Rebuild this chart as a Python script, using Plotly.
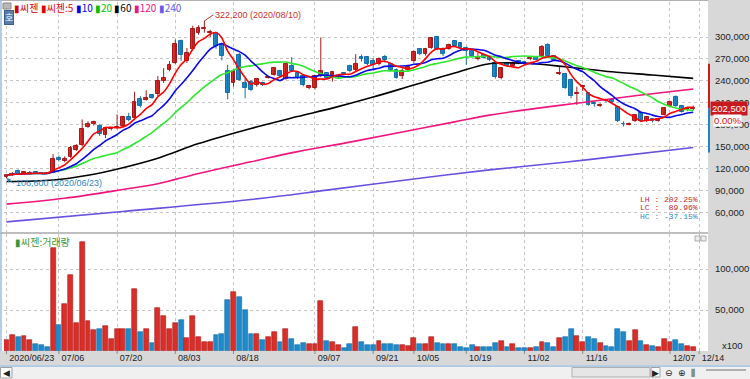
import plotly.graph_objects as go

# ---------------- data ----------------
dates = ["06/23","06/24","06/25","06/26","06/29","06/30",
         "07/01","07/02","07/03","07/06","07/07","07/08","07/09","07/10","07/13","07/14","07/15","07/16","07/17",
         "07/20","07/21","07/22","07/23","07/24","07/27","07/28","07/29","07/30","07/31",
         "08/03","08/04","08/05","08/06","08/07","08/10","08/11","08/12","08/13","08/14","08/18","08/19","08/20",
         "08/21","08/24","08/25","08/26","08/27","08/28","08/31",
         "09/01","09/02","09/03","09/04","09/07","09/08","09/09","09/10","09/11","09/14","09/15","09/16","09/17",
         "09/18","09/21","09/22","09/23","09/24","09/25","09/28","09/29",
         "10/05","10/06","10/07","10/08","10/12","10/13","10/14","10/15","10/16","10/19","10/20","10/21","10/22",
         "10/23","10/26","10/27","10/28","10/29","10/30",
         "11/02","11/03","11/04","11/05","11/06","11/09","11/10","11/11","11/12","11/13","11/16","11/17","11/18",
         "11/19","11/20","11/23","11/24","11/25","11/26","11/27","11/30",
         "12/01","12/02","12/03","12/04","12/07","12/08","12/09","12/10","12/11"]

opens = [108000,110500,117000,112000,113500,114500,113500,113500,114000,134500,
         130500,136000,145500,152000,177000,181000,178500,166000,174000,175000,
         178000,190000,189000,214500,214000,220000,221500,239500,255500,264500,
         294000,267000,283000,305500,311000,305000,305500,289500,253000,237500,
         276000,237000,239000,234000,237000,244500,248500,253000,243000,260500,
         250500,246000,230000,230000,248000,250500,244000,245000,250500,260000,
         255000,272000,272000,266500,263000,272000,263000,255000,246000,255000,
         266500,283000,276500,285500,300500,284000,284000,294000,291500,285000,
         280500,270000,276000,272000,264500,244000,264000,260000,266500,266000,
         270500,272000,273500,289500,273500,250000,249500,241500,222000,231000,
         223000,209000,206000,213500,214000,203500,181500,180000,184500,196000,
         184500,187500,184500,193500,205000,218500,206000,200500,202000]
highs = [111500,115000,118500,116000,116500,115500,114500,114000,139500,137500,
         136500,150500,153500,187000,184500,185500,180500,177000,177000,194000,
         192000,196000,225000,219000,227000,222000,246500,257500,267000,296500,
         296500,285000,315500,316000,322200,310000,307000,291000,262000,256000,
         278000,244000,241000,244000,239000,246500,258500,255000,264000,272500,
         252000,247500,234500,248000,299500,252000,253000,248000,252000,262000,
         276500,276000,273500,271000,272000,275500,265000,257000,257000,262000,
         281500,284000,285000,299000,301000,286000,291000,295500,293000,287000,
         282000,279000,277500,273500,266000,259000,266000,266500,268000,267500,
         272500,274000,289000,291500,275000,260000,251000,243000,232000,234500,
         224500,211500,209000,215000,215500,205500,184500,183000,193500,197000,
         192000,189000,189500,203000,212500,220000,207000,203500,206000]
lows = [106600,109500,111500,111000,112000,112500,112000,112500,113500,129500,
        128500,134500,144000,150500,175500,178500,164500,161500,172000,174000,
        177000,184500,186000,203500,213000,215000,219000,237000,253000,263000,
        267500,264500,281500,303000,306000,300000,284000,268000,214600,232000,
        240000,216000,226000,232000,233000,243000,247000,245000,241500,252000,
        242500,232500,228500,228000,245000,242500,239000,243500,248000,251500,
        253500,266500,261500,255000,261000,265000,254000,243000,242500,253000,
        265000,275000,274500,284000,282000,274000,282500,286000,284000,262000,
        272000,268000,270500,267000,243000,242000,259000,258500,262500,263000,
        268000,268000,272000,272500,267500,248000,229000,216000,207000,226000,
        206000,204500,204000,210500,209500,183500,177500,179000,183500,183500,
        183500,183000,184000,192500,203500,204000,196500,198500,199500]
closes = [110500,113000,112500,114500,114000,113000,113000,113000,133000,131500,
          133500,148000,150500,173500,180500,183500,167000,175000,175500,177000,
          190000,186000,211000,206000,217000,217000,239500,244000,262000,290500,
          276000,278000,311000,313000,312500,306500,287500,273500,224000,253000,
          241500,230000,228000,243000,234500,245500,257500,246000,263000,254000,
          244000,234500,233500,246000,254000,244000,251500,246500,249500,253000,
          263000,270500,263000,262000,270000,269000,255500,244000,253500,259000,
          280000,276500,283000,298000,283000,277000,289500,287500,285000,280500,
          274000,272000,271000,268500,245000,257500,260000,264000,263500,264000,
          271500,269000,287000,273500,269000,251000,230000,219000,223500,232500,
          207500,208000,207500,212500,211000,184500,180500,181500,192500,184500,
          191000,184500,188000,202500,210500,205000,197500,202500,202500]
# volume (x100 shares)
volumes = [13900,19600,17100,18800,13500,8200,7300,4900,126000,31400,
           57100,93000,34300,133000,36300,25700,27300,30200,15100,27300,
           27300,27300,75500,22800,26900,9800,52200,42400,27300,34300,
           37900,15900,43200,16700,10600,10600,19600,21200,61600,72200,
           66100,49800,21000,21000,13000,17000,22800,10600,27300,14300,
           7800,9400,8600,8600,60800,12600,11400,6900,3700,9000,
           29000,11400,6900,7800,12600,8200,8200,6900,6900,6100,
           15900,8200,8600,17500,9800,9000,9000,9000,5300,4100,
           7800,4500,5300,5300,9800,12600,5300,8200,3700,4100,
           3700,4500,10600,9800,4500,15900,17500,26500,18400,10600,
           17500,15100,9400,6100,5300,27300,22800,12200,25300,12200,
           7800,6100,5300,15100,11400,13000,8600,6100,5300]

# long moving averages (index, value)
ma60_idx = [0, 8, 14, 20, 26, 33, 42, 50, 56, 63, 70, 77, 83, 89, 96, 104, 111, 118]
ma60_val = [102000, 104000, 110500, 121000, 134000, 154000, 174800, 191000, 202600,
            217700, 234200, 250600, 263500, 264000, 259300, 252400, 248000, 243400]
ma120_idx = [0, 10, 20, 26, 33, 42, 50, 59, 68, 77, 83, 91, 99, 108, 118]
ma120_val = [71000, 79000, 91000, 99000, 113000, 129000, 143000, 156000, 169800,
             183800, 193000, 202200, 210400, 219500, 228700]
ma240_idx = [0, 20, 42, 55, 70, 83, 100, 118]
ma240_val = [46700, 61000, 77400, 90200, 105500, 118000, 132000, 148700]

tick_idx = [0, 9, 19, 29, 39, 53, 63, 70, 79, 89, 99, 114, 119]
tick_labels = ["2020/06/23", "07/06", "07/20", "08/03", "08/18", "09/07", "09/21",
               "10/05", "10/19", "11/02", "11/16", "12/07", "12/14"]
price_ticks = [60000, 90000, 120000, 150000, 180000, 210000, 240000, 270000, 300000]
vol_ticks = [50000, 100000]

# ---------------- helpers ----------------
n = len(closes)
idx = list(range(n))

def sma(vals, w):
    out = []
    for i in range(len(vals)):
        s = vals[max(0, i - w + 1): i + 1]
        out.append(sum(s) / len(s))
    return out

ma5 = sma(closes, 5)
ma10 = sma(closes, 10)
ma20 = sma(closes, 20)

RED = "#DA2E28"; RED_L = "#A8181A"
BLUE = "#1D8ACB"; BLUE_L = "#166FA6"
C5, C10, C20, C60, C120, C240 = "#FF0000", "#0A0AE6", "#2EE62E", "#000000", "#F0147D", "#6A50E0"

W, H = 750, 379
L, R, T, B = 4, 42, 2, 28
PW, PH = W - L - R, H - T - B
def px_x(x):
    return (x - L) / PW
def px_y(y):
    return (H - B - y) / PH

up = [i for i in idx if closes[i] >= opens[i]]
dn = [i for i in idx if closes[i] < opens[i]]

def wick(ids):
    xs, ys = [], []
    for i in ids:
        xs += [i, i, None]
        ys += [lows[i], highs[i], None]
    return xs, ys

fig = go.Figure()
for ids, col in ((up, RED_L), (dn, BLUE_L)):
    xs, ys = wick(ids)
    fig.add_trace(go.Scatter(x=xs, y=ys, mode="lines", line=dict(color=col, width=1),
                             hoverinfo="skip", showlegend=False))
for ids, fc, lc in ((up, RED, RED_L), (dn, BLUE, BLUE_L)):
    fig.add_trace(go.Bar(x=ids, y=[max(abs(closes[i] - opens[i]), 400) for i in ids],
                         base=[min(opens[i], closes[i]) for i in ids], width=0.66,
                         marker=dict(color=fc, line=dict(color=lc, width=1)), showlegend=False))

fig.add_trace(go.Scatter(x=ma240_idx, y=ma240_val, mode="lines", line=dict(color=C240, width=1.6, shape="spline"), showlegend=False))
fig.add_trace(go.Scatter(x=ma120_idx, y=ma120_val, mode="lines", line=dict(color=C120, width=1.6, shape="spline"), showlegend=False))
fig.add_trace(go.Scatter(x=ma60_idx, y=ma60_val, mode="lines", line=dict(color=C60, width=1.6, shape="spline"), showlegend=False))
fig.add_trace(go.Scatter(x=idx, y=ma20, mode="lines", line=dict(color=C20, width=1.6, shape="spline", smoothing=0.6), showlegend=False))
fig.add_trace(go.Scatter(x=idx, y=ma10, mode="lines", line=dict(color=C10, width=1.6, shape="spline", smoothing=0.6), showlegend=False))
fig.add_trace(go.Scatter(x=idx, y=ma5, mode="lines", line=dict(color=C5, width=1.6, shape="spline", smoothing=0.6), showlegend=False))

vcol = [RED if closes[i] >= opens[i] else BLUE for i in idx]
vline = [RED_L if closes[i] >= opens[i] else BLUE_L for i in idx]
fig.add_trace(go.Bar(x=idx, y=volumes, yaxis="y2", width=0.84,
                     marker=dict(color=vcol, line=dict(color=vline, width=0.6)), showlegend=False))

nb = "\u00a0"
ticktext = [(nb * 9 + t) if len(t) > 5 else t for t in tick_labels]

grid = dict(showgrid=True, gridcolor="#C4C4C4", griddash="dot", gridwidth=1)
fig.update_layout(
    width=W, height=H, template="none",
    margin=dict(l=L, r=R, t=T, b=B),
    paper_bgcolor="white", plot_bgcolor="white",
    barmode="overlay", bargap=0,
    showlegend=False,
    font=dict(family="Liberation Sans, Arial, sans-serif", size=9.5, color="#222"),
    xaxis=dict(domain=[0, 1], range=[-0.43, 120.53], anchor="y2",
               tickvals=tick_idx, ticktext=ticktext, ticklabelshift=14, ticklabeloverflow="allow",
               ticks="", tickfont=dict(size=9, color="#222"),
               zeroline=False, showline=False, **grid),
    yaxis=dict(domain=[px_y(232.2), 1], range=[32577, 348000], side="right", anchor="x",
               tickvals=price_ticks, tickformat=",", ticks="", ticklabelstandoff=6,
               ticklabeloverflow="allow",
               zeroline=False, showline=False, tickfont=dict(size=9.5, color="#222"), **grid),
    yaxis2=dict(domain=[0, px_y(234)], range=[0, 142700], side="right", anchor="x",
                tickvals=vol_ticks, tickformat=",", ticks="", ticklabelstandoff=6,
                ticklabeloverflow="allow",
                zeroline=False, showline=False, tickfont=dict(size=9.5, color="#222"), **grid),
)

shapes = []
# right gray axis panel and bottom date strip
shapes.append(dict(type="rect", xref="paper", yref="paper", x0=1, x1=px_x(W + 2), y0=px_y(365), y1=px_y(-2),
                   fillcolor="#D8D8D8", line=dict(width=0), layer="below"))
shapes.append(dict(type="rect", xref="paper", yref="paper", x0=px_x(-2), x1=px_x(W + 2), y0=px_y(365), y1=px_y(351),
                   fillcolor="#D8D8D8", line=dict(width=0), layer="below"))
# small tick marks on the date strip
for ti in tick_idx:
    shapes.append(dict(type="line", xref="x", yref="paper", x0=ti, x1=ti, y0=px_y(351), y1=px_y(354),
                       line=dict(color="#8A8A8A", width=1)))
# scrollbar zone
shapes.append(dict(type="rect", xref="paper", yref="paper", x0=px_x(-2), x1=px_x(W + 2), y0=px_y(H + 2), y1=px_y(366),
                   fillcolor="#F0F0F0", line=dict(width=0), layer="below"))
shapes.append(dict(type="line", xref="paper", yref="paper", x0=px_x(0), x1=px_x(W), y0=px_y(366), y1=px_y(366),
                   line=dict(color="#9CBEDF", width=1.5)))
shapes.append(dict(type="rect", xref="paper", yref="paper", x0=px_x(0.5), x1=px_x(12), y0=px_y(378), y1=px_y(367.5),
                   fillcolor="white", line=dict(color="#A0A0A0", width=1)))
shapes.append(dict(type="rect", xref="paper", yref="paper", x0=px_x(572), x1=px_x(650), y0=px_y(377), y1=px_y(367.5),
                   fillcolor="#E6E6E6", line=dict(color="#B0B0B0", width=1)))
shapes.append(dict(type="rect", xref="paper", yref="paper", x0=px_x(651), x1=px_x(660), y0=px_y(377), y1=px_y(367.5),
                   fillcolor="white", line=dict(color="#A0A0A0", width=1)))
shapes.append(dict(type="line", xref="paper", yref="paper", x0=px_x(706), x1=px_x(746), y0=px_y(370), y1=px_y(370),
                   line=dict(color="#707070", width=1)))
# frame lines
shapes.append(dict(type="line", xref="paper", yref="paper", x0=px_x(0), x1=1, y0=px_y(233), y1=px_y(233),
                   line=dict(color="#A8A8A8", width=1.5)))
shapes.append(dict(type="line", xref="paper", yref="paper", x0=px_x(0), x1=1, y0=px_y(0.5), y1=px_y(0.5),
                   line=dict(color="#B0B0B0", width=1)))
shapes.append(dict(type="line", xref="paper", yref="paper", x0=px_x(1), x1=px_x(1), y0=px_y(351), y1=px_y(0),
                   line=dict(color="#9CBEDF", width=1.5)))
# top-left icon
shapes.append(dict(type="rect", xref="paper", yref="paper", x0=px_x(3), x1=px_x(11), y0=px_y(9), y1=px_y(3),
                   fillcolor="#B8B8B8", line=dict(color="#8A8A8A", width=1)))
# small window buttons
for x0 in (695, 701):
    shapes.append(dict(type="rect", xref="paper", yref="paper", x0=px_x(x0), x1=px_x(x0 + 5), y0=px_y(241), y1=px_y(236),
                       fillcolor="#EEEEEE", line=dict(color="#999999", width=0.8)))
# price limit bar (+/-30% of last close)
last = closes[-1]
shapes.append(dict(type="line", xref="paper", yref="y", x0=px_x(709), x1=px_x(709), y0=last, y1=last * 1.3,
                   line=dict(color="#D01818", width=2)))
shapes.append(dict(type="line", xref="paper", yref="y", x0=px_x(709), x1=px_x(709), y0=last, y1=last * 0.7,
                   line=dict(color="#1E86C8", width=2)))
fig.update_layout(shapes=shapes)

ann = []
leg_items = [("씨젠", "#D40000"), ("씨젠:5", "#E00000"), ("10", "#0000E6"), ("20", "#00C000"),
             ("60", "#000000"), ("120", "#F0147D"), ("240", "#6A5AE8")]
leg_text = " ".join(f'<span style="color:{c}">▮{t}</span>' for t, c in leg_items)
ann.append(dict(xref="paper", yref="paper", x=px_x(12), y=px_y(8), xanchor="left", yanchor="middle",
                text=leg_text, showarrow=False, font=dict(family="Noto Sans CJK KR", size=10)))
ann.append(dict(xref="paper", yref="paper", x=px_x(9), y=px_y(17.5), xanchor="center", yanchor="middle",
                text="호", showarrow=False, bgcolor="#5A7EA8", bordercolor="#3C5F8A", borderwidth=1, borderpad=0,
                font=dict(family="Noto Sans CJK KR", size=9, color="white")))
ann.append(dict(xref="paper", yref="paper", x=px_x(13), y=px_y(241), xanchor="left", yanchor="middle",
                text="▮씨젠:거래량", showarrow=False, font=dict(family="Noto Sans CJK KR", size=10, color="#3A963A")))

hi_i = max(idx, key=lambda i: highs[i])
lo_i = min(idx, key=lambda i: lows[i])
hi, lo = highs[hi_i], lows[lo_i]
ann.append(dict(x=hi_i, y=hi, xref="x", yref="y", text=f"{hi:,} (2020/{dates[hi_i]})",
                showarrow=True, arrowhead=0, arrowwidth=1, arrowcolor="#C8322E", ax=9, ay=-6,
                xanchor="left", yanchor="middle", font=dict(size=9, color="#C8322E")))
ann.append(dict(x=lo_i, y=lo, xref="x", yref="y", text=f"{lo:,} (2020/{dates[lo_i]})",
                showarrow=True, arrowhead=2, arrowsize=0.8, arrowwidth=1, arrowcolor="#2E86C1", ax=7, ay=5,
                xanchor="left", yanchor="middle", font=dict(size=9, color="#2E86C1")))

lh = (hi / lo - 1) * 100
lc = (last / lo - 1) * 100
hc = (last / hi - 1) * 100
for k, (lab, v, c) in enumerate((("LH", lh, "#C0282D"), ("LC", lc, "#C0282D"), ("HC", hc, "#2E86C8"))):
    ann.append(dict(xref="paper", yref="paper", x=px_x(700), y=px_y(199 + 8.5 * k), xanchor="right", yanchor="middle",
                    text=f"{lab} : {v:6.2f}%".replace(" ", nb), showarrow=False,
                    font=dict(family="Liberation Mono", size=8, color=c)))

chg = (closes[-1] / closes[-2] - 1) * 100
ann.append(dict(xref="paper", yref="y", x=px_x(710), y=last, xanchor="left", yanchor="middle",
                text=f"{last:,}", showarrow=False, bgcolor="#C8191E", borderpad=1,
                font=dict(size=9.5, color="white")))
ann.append(dict(xref="paper", yref="y", x=px_x(713), y=last, yshift=-12, xanchor="left", yanchor="middle",
                text=f"{chg:.2f}%", showarrow=False, bgcolor="white", borderpad=0,
                font=dict(size=9.5, color="#D01010")))
ann.append(dict(xref="paper", yref="paper", x=px_x(745), y=px_y(345.5), xanchor="right", yanchor="middle",
                text="x100", showarrow=False, font=dict(size=9.5, color="#222")))
# scrollbar glyphs
for gx, g in ((6, "◀"), (655.5, "▶"), (669, "⊖"), (682, "⊕"), (693, "⫼")):
    ann.append(dict(xref="paper", yref="paper", x=px_x(gx), y=px_y(372.5), xanchor="center", yanchor="middle",
                    text=g, showarrow=False, font=dict(family="DejaVu Sans", size=9, color="#222")))
fig.update_layout(annotations=ann)

fig.write_html("out.html", config={"displayModeBar": False},
               post_script="document.body.style.margin='0px';document.body.style.overflow='hidden';")
